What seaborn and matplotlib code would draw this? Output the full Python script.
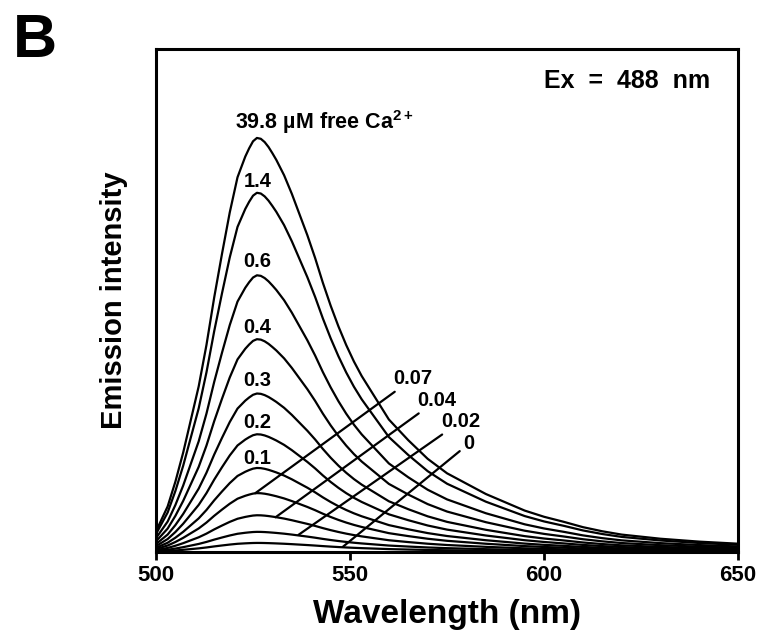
import numpy as np
import pandas as pd
import seaborn as sns
import matplotlib
matplotlib.use('Agg')
import matplotlib.pyplot as plt

# Spectrum shape (normalised to its peak)
wavelength = [500, 501, 503, 505, 507, 509, 511, 513, 515, 517, 519, 521, 523, 524, 525,
              526, 527, 528, 529, 530, 531, 533, 535, 537, 539, 541, 543, 545, 547,
              549, 551, 553, 556, 560, 565, 570, 575, 580, 585, 590, 595, 600, 605,
              610, 615, 620, 630, 640, 650]
shape = [0.05, 0.07, 0.11, 0.17, 0.24, 0.32, 0.40, 0.50, 0.615, 0.72, 0.82, 0.905, 0.955, 0.975, 0.992,
         1.0, 0.998, 0.99, 0.978, 0.963, 0.947, 0.91, 0.865, 0.815, 0.765, 0.71, 0.65, 0.595, 0.545,
         0.50, 0.46, 0.425, 0.38, 0.32, 0.27, 0.225, 0.19, 0.165, 0.14, 0.12, 0.10, 0.085, 0.073,
         0.06, 0.05, 0.042, 0.032, 0.025, 0.02]

# free Ca2+ (uM) and peak height of each curve (arbitrary units)
calcium = ['39.8', '1.4', '0.6', '0.4', '0.3', '0.2', '0.1', '0.07', '0.04', '0.02', '0']
peak = [82.3, 71.4, 55.0, 42.3, 31.5, 23.4, 16.7, 11.7, 7.3, 4.0, 1.8]

rows = []
for ca, p in zip(calcium, peak):
    for w, s in zip(wavelength, shape):
        rows.append({'wavelength': w, 'intensity': p * s, 'ca': ca})
df = pd.DataFrame(rows)

sns.set_style('white')
plt.rcParams['font.family'] = ['Liberation Sans', 'DejaVu Sans']
plt.rcParams['mathtext.default'] = 'regular'
plt.rcParams['text.color'] = 'black'
plt.rcParams['axes.labelcolor'] = 'black'
plt.rcParams['xtick.color'] = 'black'

fig = plt.figure(figsize=(7.61, 6.32), dpi=100)
ax = fig.add_axes([0.205, 0.1266, 0.765, 0.796])

sns.lineplot(data=df, x='wavelength', y='intensity', hue='ca', units='ca', estimator=None,
             palette=['black'] * len(calcium), legend=False, lw=1.6, sort=False, ax=ax)

ax.set_xlim(500, 650)
ax.set_ylim(0, 100)
ax.set_xticks([500, 550, 600, 650])
ax.set_yticks([])
ax.tick_params(axis='x', bottom=True, direction='out', length=5.5, width=2, pad=4, labelsize=16)
for lbl in ax.get_xticklabels():
    lbl.set_fontweight('bold')
for sp in ax.spines.values():
    sp.set_linewidth(2.2)
    sp.set_color('black')

ax.set_xlabel('Wavelength (nm)', fontsize=24, fontweight='bold', labelpad=9)
ax.set_ylabel('Emission intensity', fontsize=21, fontweight='bold', labelpad=20)

# curve labels above the peaks
ax.text(520.4, 85.5, '39.8 µM free Ca$^{2+}$', fontsize=15.5, fontweight='bold', ha='left', va='center')
left_labels = ['1.4', '0.6', '0.4', '0.3', '0.2', '0.1']
left_y = [73.6, 57.7, 44.6, 34.1, 25.8, 18.5]
for t, y in zip(left_labels, left_y):
    ax.text(526.1, y, t, fontsize=14.5, fontweight='bold', ha='center', va='center')

# leader lines for the low concentrations
right_labels = ['0.07', '0.04', '0.02', '0']
right_text = [(561.0, 32.5), (567.2, 28.2), (573.4, 24.0), (579.1, 19.6)]
right_tip = [(525.6, 11.7), (530.8, 6.9), (536.7, 3.4), (548.1, 1.0)]
for t, xy_t, xy in zip(right_labels, right_text, right_tip):
    ax.annotate(t, xy=xy, xytext=xy_t, fontsize=14.5, fontweight='bold', ha='left', va='bottom',
                arrowprops=dict(arrowstyle='-', color='black', lw=1.6, shrinkA=0, shrinkB=0))

ax.text(0.952, 0.937, 'Ex  =  488  nm', transform=ax.transAxes, fontsize=18, fontweight='bold',
        ha='right', va='center')

fig.text(0.017, 0.91, 'B', fontsize=44, fontweight='bold', ha='left', va='baseline')

fig.savefig('out.png', dpi=100)
